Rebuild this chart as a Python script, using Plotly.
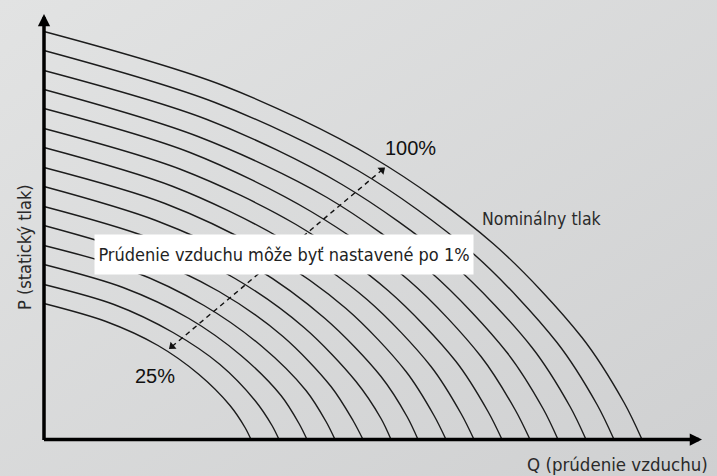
import base64
import plotly.graph_objects as go

# Fan curves (Q = airflow, P = static pressure), 25% .. 100%
curve_Q = [
    [0, 62, 114, 155, 186, 201, 207],
    [0, 70, 129, 176, 211, 228, 235],
    [0, 79, 145, 197, 237, 255, 263],
    [0, 87, 160, 218, 262, 282, 291],
    [0, 96, 175, 239, 287, 309, 319],
    [0, 104, 191, 260, 312, 337, 347],
    [0, 112, 206, 281, 337, 363, 374],
    [0, 121, 221, 302, 362, 390, 402],
    [0, 129, 237, 323, 387, 417, 430],
    [0, 137, 252, 344, 412, 444, 458],
    [0, 146, 267, 365, 437, 471, 486],
    [0, 154, 283, 386, 463, 499, 514],
    [0, 163, 298, 407, 488, 526, 542],
    [0, 171, 314, 428, 513, 553, 570],
    [0, 179, 329, 449, 538, 580, 598],
]
curve_P = [
    [136, 118, 94, 65, 34, 12, 0],
    [155, 135, 107, 75, 39, 14, 0],
    [175, 152, 121, 84, 44, 16, 0],
    [194, 169, 134, 93, 49, 18, 0],
    [214, 185, 148, 103, 53, 19, 0],
    [233, 202, 161, 112, 58, 21, 0],
    [253, 219, 175, 121, 63, 23, 0],
    [272, 236, 188, 131, 68, 24, 0],
    [292, 253, 201, 140, 73, 26, 0],
    [311, 270, 215, 149, 78, 28, 0],
    [331, 287, 228, 159, 83, 30, 0],
    [350, 303, 242, 168, 87, 31, 0],
    [369, 320, 255, 177, 92, 33, 0],
    [389, 337, 269, 187, 97, 35, 0],
    [408, 354, 282, 196, 102, 37, 0],
]
# dashed double arrow (25% -> 100%)
dash_Q = [128, 338]
dash_P = [93, 269.5]

label_low = "25%"
label_high = "100%"
label_nominal = "Nominálny tlak"
label_note = "Prúdenie vzduchu môže byť nastavené po 1%"
label_y = "P (statický tlak)"
label_x = "Q (prúdenie vzduchu)"

COND = "Liberation Sans Narrow, DejaVu Sans Condensed, Roboto, sans-serif"
REG = "Liberation Sans, Arial, sans-serif"

fig = go.Figure()
for q, p in zip(curve_Q, curve_P):
    fig.add_trace(go.Scatter(
        x=q, y=p, mode="lines",
        line=dict(color="#1c1c1c", width=1.4, shape="spline", smoothing=0.9),
        hoverinfo="skip", showlegend=False))

fig.add_trace(go.Scatter(
    x=dash_Q, y=dash_P, mode="lines+markers",
    line=dict(color="#111111", width=1.4, dash="5px,4px"),
    marker=dict(symbol="triangle-up", size=8, color="#111111", angle=[230, 50]),
    hoverinfo="skip", showlegend=False))

svg = ('<svg xmlns="http://www.w3.org/2000/svg" width="717" height="476">'
       '<defs><linearGradient id="g" x1="0" y1="0" x2="1" y2="1">'
       '<stop offset="0" stop-color="#e2e3e3"/><stop offset="1" stop-color="#cfd0d1"/>'
       '</linearGradient></defs><rect width="717" height="476" fill="url(#g)"/></svg>')
src = "data:image/svg+xml;base64," + base64.b64encode(svg.encode()).decode()

ann = []
# axes with arrowheads
ann.append(dict(x=658, y=0, ax=-1.5, ay=0, xref="x", yref="y", axref="x", ayref="y",
                showarrow=True, arrowhead=2, arrowsize=0.7, arrowwidth=3.5,
                arrowcolor="#000000", text=""))
ann.append(dict(x=0, y=425.5, ax=0, ay=-2, xref="x", yref="y", axref="x", ayref="y",
                showarrow=True, arrowhead=2, arrowsize=0.7, arrowwidth=3.5,
                arrowcolor="#000000", text=""))
ann.append(dict(x=366, y=291.5, text=label_high, showarrow=False,
                font=dict(family=REG, size=20, color="#111111")))
ann.append(dict(x=111, y=63.5, text=label_low, showarrow=False,
                font=dict(family=REG, size=20, color="#111111")))
ann.append(dict(x=498, y=220.5, text=label_nominal, showarrow=False,
                font=dict(family=COND, size=17.5, color="#2a2a2a")))
ann.append(dict(x=240, y=185, text=label_note, showarrow=False, bgcolor="#ffffff",
                width=376, height=37, borderpad=1,
                font=dict(family=COND, size=18, color="#222222")))
ann.append(dict(x=-20, y=192.5, text=label_y, showarrow=False, textangle=-90,
                font=dict(family=COND, size=18, color="#2a2a2a")))
ann.append(dict(x=573, y=-24.5, text=label_x, showarrow=False,
                font=dict(family=COND, size=18.5, color="#2a2a2a")))

fig.update_layout(
    width=717, height=476,
    margin=dict(l=0, r=0, t=0, b=0),
    paper_bgcolor="#d9dadb", plot_bgcolor="rgba(0,0,0,0)",
    xaxis=dict(range=[-44, 673], visible=False, fixedrange=True),
    yaxis=dict(range=[-36.5, 439.5], visible=False, fixedrange=True),
    images=[dict(source=src, xref="paper", yref="paper", x=0, y=1, sizex=1, sizey=1,
                 sizing="stretch", xanchor="left", yanchor="top", layer="below")],
    annotations=ann,
    showlegend=False,
)
fig.write_html("out.html", config={"displayModeBar": False},
               post_script="document.body.style.margin='0px';")
